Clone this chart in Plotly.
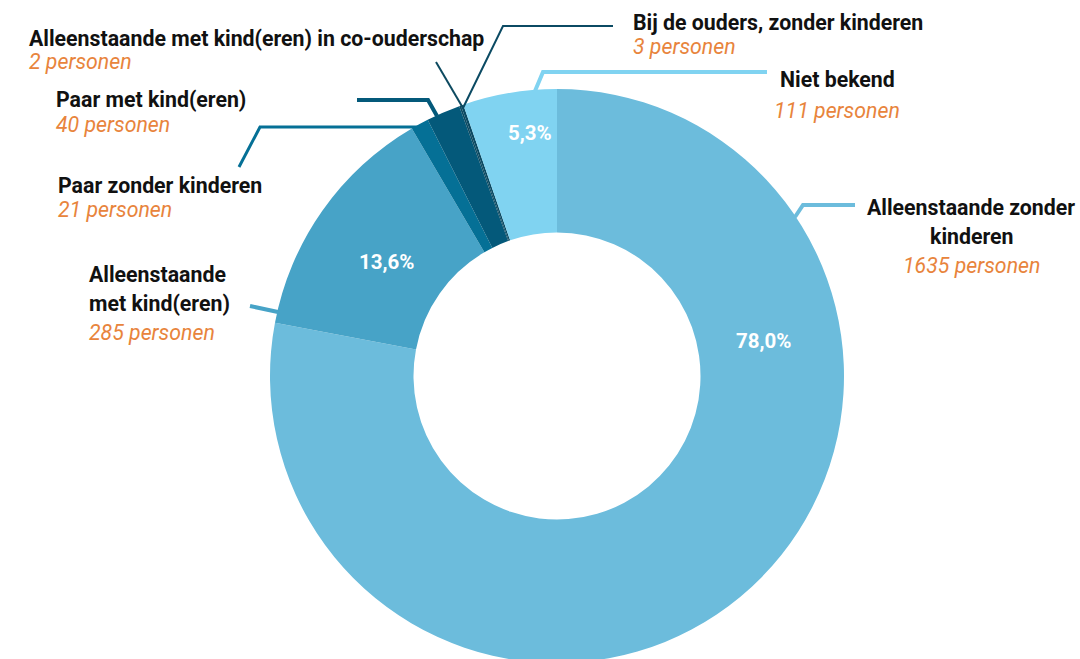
import plotly.graph_objects as go

# ---------------- data ----------------
categories = [
    "Alleenstaande zonder kinderen",
    "Alleenstaande met kind(eren)",
    "Paar zonder kinderen",
    "Paar met kind(eren)",
    "Alleenstaande met kind(eren) in co-ouderschap",
    "Bij de ouders, zonder kinderen",
    "Niet bekend",
]
values = [1635, 285, 21, 40, 2, 3, 111]
colors = ["#6cbcdc", "#47a3c7", "#057096", "#04597a", "#0c4a62", "#0b4a63", "#80d3f1"]
show_pct = [True, True, False, False, False, False, True]

W, H = 1080, 664   # slightly taller than the window so the donut bottom is cut off
OFF = 0            # body margin removed via post_script
total = sum(values)

def X(px):
    return (px - OFF) / W

def Y(py):
    return 1 - (py - OFF) / H

# pie geometry (screen pixels)
CX, CY, R = 557, 376, 287

fig = go.Figure(
    go.Pie(
        labels=categories,
        values=values,
        sort=False,
        direction="clockwise",
        rotation=0,
        hole=0.5,
        marker=dict(colors=colors, line=dict(width=0)),
        textinfo="none",
        hovertemplate="%{label}<br>%{value} personen<br>%{percent}<extra></extra>",
        domain=dict(x=[X(CX - R), X(CX + R)], y=[max(0, Y(CY + R)), Y(CY - R)]),
        showlegend=False,
    )
)

ORANGE = "#e8843c"
FONT = "Roboto"
TS = 21.3  # label size

annotations = []

def txt(x, y, text, anchor="left", color="#111111", size=TS, italic=False, bold=True):
    t = text
    if bold:
        t = "<b>" + t + "</b>"
    if italic:
        t = "<i>" + t + "</i>"
    annotations.append(dict(
        x=X(x), y=Y(y), xref="paper", yref="paper", text=t, showarrow=False,
        xanchor=anchor, yanchor="middle", borderpad=0,
        font=dict(family=FONT, size=size, color=color),
    ))

def count(i):
    return f"{values[i]} personen"

# category labels (title in bold, count in orange italic)
# 0 Alleenstaande zonder kinderen
txt(971, 207, "Alleenstaande zonder", anchor="center")
txt(971, 236, "kinderen", anchor="center")
txt(971, 265, count(0), anchor="center", color=ORANGE, italic=True, bold=False)
# 1 Alleenstaande met kind(eren)
txt(88, 274, "Alleenstaande")
txt(88, 303, "met kind(eren)")
txt(88, 332, count(1), color=ORANGE, italic=True, bold=False)
# 2 Paar zonder kinderen
txt(57, 186, categories[2])
txt(57, 210, count(2), color=ORANGE, italic=True, bold=False)
# 3 Paar met kind(eren)
txt(55, 100, categories[3])
txt(55, 124, count(3), color=ORANGE, italic=True, bold=False)
# 4 co-ouderschap
txt(28, 38, categories[4])
txt(28, 61, count(4), color=ORANGE, italic=True, bold=False)
# 5 Bij de ouders
txt(632, 23, categories[5])
txt(632, 47, count(5), color=ORANGE, italic=True, bold=False)
# 6 Niet bekend
txt(837, 80, categories[6], anchor="center")
txt(837, 110, count(6), anchor="center", color=ORANGE, italic=True, bold=False)

# percentage labels inside the donut
pct_pos = {0: (763, 341), 1: (386, 262), 6: (530, 133)}
for i, v in enumerate(values):
    if show_pct[i]:
        s = f"{v / total * 100:.1f}".replace(".", ",") + "%"
        x, y = pct_pos[i]
        txt(x, y, s, anchor="center", color="#ffffff", size=20.5)

# leader lines
def leader(points, color, width=3):
    d = "M " + " L ".join(f"{X(px)},{Y(py)}" for px, py in points)
    return dict(type="path", path=d, xref="paper", yref="paper",
                line=dict(color=color, width=width))

shapes = [
    leader([(795, 217), (803, 205), (855, 205)], colors[0], 4),
    leader([(250, 306), (278, 312)], colors[1], 4),
    leader([(239, 167), (260, 127), (420, 127)], colors[2], 3),
    leader([(357, 100), (428, 100), (437, 116)], colors[3], 4),
    leader([(436, 62), (463, 108)], "#0d4a60", 2),
    leader([(613, 26), (503, 26), (463, 108)], "#0b4a63", 2),
    leader([(535, 91), (543, 72), (767, 72)], colors[6], 4),
]

fig.update_layout(
    width=W, height=H,
    margin=dict(l=0, r=0, t=0, b=0),
    paper_bgcolor="white",
    plot_bgcolor="white",
    annotations=annotations,
    shapes=shapes,
)

fig.write_html(
    "out.html",
    config={"displayModeBar": False},
    post_script="document.body.style.margin='0';document.body.style.overflow='hidden';",
)
